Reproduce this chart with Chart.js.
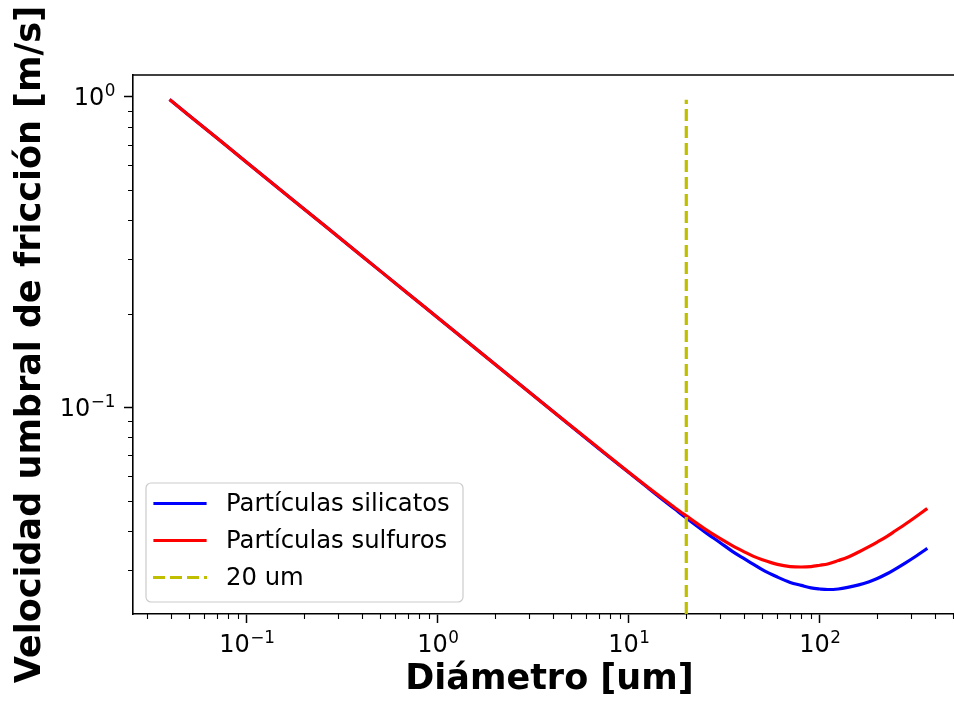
<!DOCTYPE html>
<html>
<head>
<meta charset="utf-8">
<script src="https://cdn.jsdelivr.net/npm/chart.js@4"></script>
<style>
  html, body { margin: 0; padding: 0; background: #fff; overflow: hidden; }
  #wrap { width: 968px; height: 702px; }
</style>
</head>
<body>
<div id="wrap"><canvas id="chart" width="968" height="702"></canvas></div>
<script>
// diameters in um
const diameters = [0.04, 0.07, 0.1, 0.2, 0.4, 0.7, 1, 2, 4, 7, 10, 12.5, 15, 17.5, 20, 25, 30, 35, 40, 45, 50, 60, 70, 80, 90, 100, 110, 125, 140, 160, 180, 200, 225, 250, 280, 320, 360];
const silicatos = [0.9695, 0.7329, 0.6132, 0.4336, 0.3066, 0.2318, 0.1939, 0.1371, 0.0970, 0.0734, 0.0616, 0.0552, 0.0505, 0.0469, 0.0440, 0.0397, 0.0367, 0.0343, 0.0326, 0.0312, 0.0300, 0.0284, 0.0273, 0.0267, 0.0262, 0.0260, 0.0259, 0.0260, 0.0263, 0.0268, 0.0274, 0.0281, 0.0291, 0.0302, 0.0315, 0.0332, 0.0349];
const sulfuros = [0.9695, 0.7329, 0.6132, 0.4336, 0.3066, 0.2318, 0.1939, 0.1371, 0.0970, 0.0736, 0.0618, 0.0555, 0.0509, 0.0474, 0.0447, 0.0406, 0.0378, 0.0358, 0.0343, 0.0331, 0.0323, 0.0312, 0.0307, 0.0306, 0.0307, 0.0310, 0.0313, 0.0321, 0.0329, 0.0342, 0.0355, 0.0368, 0.0384, 0.0401, 0.0420, 0.0445, 0.0469];

// vertical marker at 20 um
const markerX = [20, 20];
const markerY = [0.0216, 0.976];

const seriesLabels = ['Partículas silicatos', 'Partículas sulfuros', '20 um'];

// tick values (majors labelled)
const xTicks = [0.03, 0.04, 0.05, 0.06, 0.07, 0.08, 0.09, 0.1, 0.2, 0.3, 0.4, 0.5, 0.6, 0.7, 0.8, 0.9, 1, 2, 3, 4, 5, 6, 7, 8, 9, 10, 20, 30, 40, 50, 60, 70, 80, 90, 100, 200, 300, 400, 500];
const yTicks = [0.03, 0.04, 0.05, 0.06, 0.07, 0.08, 0.09, 0.1, 0.2, 0.3, 0.4, 0.5, 0.6, 0.7, 0.8, 0.9, 1];

const isMajor = v => Math.abs(Math.log10(v) - Math.round(Math.log10(v))) < 1e-9;
const expText = v => String(Math.round(Math.log10(v))).replace('-', '\u2212');

const toPoints = (xs, ys) => xs.map((x, i) => ({ x: x, y: ys[i] }));

Chart.defaults.font.family = 'DejaVu Sans';
Chart.defaults.color = '#000';

// "10" with a raised exponent, like mathtext
function drawPow(ctx, v, x, baseY, align) {
  const e = expText(v);
  ctx.font = '24px "DejaVu Sans"';
  const w1 = ctx.measureText('10').width;
  ctx.font = '16.8px "DejaVu Sans"';
  const w2 = ctx.measureText(e).width;
  const start = align === 'right' ? x - w1 - w2 : x - (w1 + w2) / 2;
  ctx.textAlign = 'left';
  ctx.textBaseline = 'alphabetic';
  ctx.fillStyle = '#000';
  ctx.font = '24px "DejaVu Sans"';
  ctx.fillText('10', start, baseY);
  ctx.font = '16.8px "DejaVu Sans"';
  ctx.fillText(e, start + w1 + 0.5, baseY - 9);
}

const extras = {
  id: 'extras',
  afterDraw(chart) {
    const ctx = chart.ctx;
    const a = chart.chartArea;
    const xs = chart.scales.x, ys = chart.scales.y;
    ctx.save();
    // top spine
    ctx.strokeStyle = '#000';
    ctx.lineWidth = 1.6;
    ctx.beginPath();
    ctx.moveTo(a.left - 0.8, a.top);
    ctx.lineTo(a.right + 0.8, a.top);
    ctx.stroke();

    // minor ticks
    ctx.lineWidth = 1.1;
    ctx.beginPath();
    xs.ticks.forEach(t => {
      if (isMajor(t.value)) return;
      const p = Math.round(xs.getPixelForValue(t.value)) + 0.5;
      ctx.moveTo(p, a.bottom);
      ctx.lineTo(p, a.bottom + 5);
    });
    ys.ticks.forEach(t => {
      if (isMajor(t.value)) return;
      const p = Math.round(ys.getPixelForValue(t.value)) + 0.5;
      ctx.moveTo(a.left, p);
      ctx.lineTo(a.left - 5, p);
    });
    ctx.stroke();

    // major tick labels
    xs.ticks.forEach(t => {
      if (isMajor(t.value)) drawPow(ctx, t.value, xs.getPixelForValue(t.value), a.bottom + 38, 'center');
    });
    ys.ticks.forEach(t => {
      if (isMajor(t.value)) drawPow(ctx, t.value, a.left - 18, ys.getPixelForValue(t.value) + 9, 'right');
    });

    // legend
    const bx = 146, by = 483, bw = 317, bh = 119;
    ctx.fillStyle = 'rgba(255,255,255,0.8)';
    ctx.strokeStyle = '#cccccc';
    ctx.lineWidth = 1.2;
    ctx.beginPath();
    ctx.roundRect(bx, by, bw, bh, 5);
    ctx.fill();
    ctx.stroke();

    const rows = [503.5, 540.5, 577.5];
    ctx.font = '24.3px "DejaVu Sans"';
    ctx.textBaseline = 'middle';
    ctx.textAlign = 'left';
    chart.data.datasets.forEach((ds, i) => {
      const y = rows[i];
      ctx.strokeStyle = ds.borderColor;
      ctx.lineWidth = ds.borderWidth;
      ctx.setLineDash(ds.borderDash || []);
      ctx.lineCap = ds.borderDash ? 'butt' : 'square';
      ctx.beginPath();
      ctx.moveTo(ds.borderDash ? 153 : 155, y);
      ctx.lineTo(ds.borderDash ? 207 : 205, y);
      ctx.stroke();
      ctx.setLineDash([]);
      ctx.fillStyle = '#000';
      ctx.fillText(ds.label, 226, y + 1);
    });
    ctx.restore();
  }
};

new Chart(document.getElementById('chart'), {
  type: 'line',
  data: {
    datasets: [
      {
        label: seriesLabels[0],
        data: toPoints(diameters, silicatos),
        borderColor: '#0000ff',
        borderWidth: 3.2,
        borderCapStyle: 'square',
        cubicInterpolationMode: 'monotone',
        pointRadius: 0,
        order: 2
      },
      {
        label: seriesLabels[1],
        data: toPoints(diameters, sulfuros),
        borderColor: '#ff0000',
        borderWidth: 3.2,
        borderCapStyle: 'square',
        cubicInterpolationMode: 'monotone',
        pointRadius: 0,
        order: 1
      },
      {
        label: seriesLabels[2],
        data: toPoints(markerX, markerY),
        borderColor: '#bfbf00',
        borderWidth: 3.2,
        borderDash: [12, 5],
        pointRadius: 0,
        order: 0
      }
    ]
  },
  options: {
    responsive: false,
    animation: false,
    devicePixelRatio: 1,
    layout: { padding: { top: 75, right: 2, left: 0, bottom: 0 } },
    plugins: {
      legend: { display: false },
      tooltip: { enabled: false }
    },
    scales: {
      x: {
        type: 'logarithmic',
        position: 'bottom',
        min: 0.02535,
        max: 583,
        bounds: 'data',
        afterBuildTicks: s => { s.ticks = xTicks.map(v => ({ value: v, major: isMajor(v) })); },
        afterFit: s => { s.height = 88; },
        grid: {
          drawOnChartArea: false,
          tickLength: 9,
          tickWidth: 1.5,
          tickColor: c => (c.tick && isMajor(c.tick.value)) ? '#000' : 'rgba(0,0,0,0)'
        },
        border: { color: '#000', width: 1.6 },
        ticks: {
          autoSkip: false,
          maxRotation: 0,
          minRotation: 0,
          padding: 6,
          font: { size: 24 },
          callback: () => ''
        },
        title: {
          display: true,
          text: 'Diámetro [um]',
          font: { size: 35, weight: 'bold' },
          padding: { top: 0, bottom: 1 }
        }
      },
      y: {
        type: 'logarithmic',
        position: 'left',
        min: 0.0216,
        max: 1.172,
        bounds: 'data',
        afterBuildTicks: s => { s.ticks = yTicks.map(v => ({ value: v, major: isMajor(v) })); },
        afterFit: s => { s.width = 133; },
        grid: {
          drawOnChartArea: false,
          tickLength: 9,
          tickWidth: 1.5,
          tickColor: c => (c.tick && isMajor(c.tick.value)) ? '#000' : 'rgba(0,0,0,0)'
        },
        border: { color: '#000', width: 1.6 },
        ticks: {
          autoSkip: false,
          padding: 9,
          font: { size: 24 },
          callback: () => ''
        },
        title: {
          display: true,
          text: 'Velocidad umbral de fricción [m/s]',
          font: { size: 35, weight: 'bold' },
          padding: { top: 10, bottom: 0 }
        }
      }
    }
  },
  plugins: [extras]
});
</script>
</body>
</html>
